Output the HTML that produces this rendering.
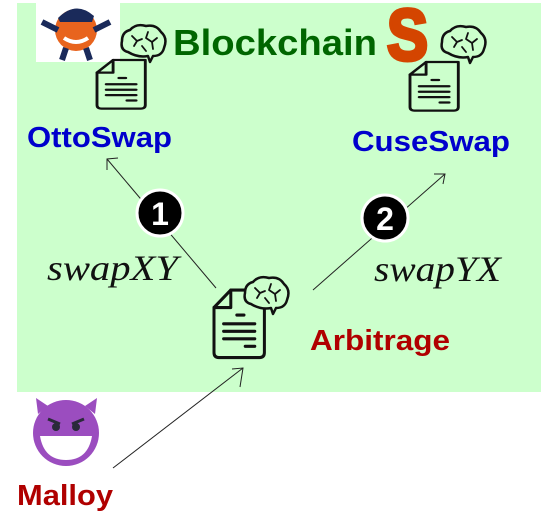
<!DOCTYPE html>
<html><head><meta charset="utf-8"><style>
html,body{margin:0;padding:0;background:#fff;}
svg{display:block;}
</style></head><body>
<svg width="541" height="529" viewBox="0 0 541 529" xmlns="http://www.w3.org/2000/svg">
<defs>
<g id="doc" fill="none" stroke="#111" stroke-width="2.5" stroke-linecap="round" stroke-linejoin="round">
<path d="M14 0 L42 0 L42 50 Q42 54 38 54 L4 54 Q0 54 0 50 L0 14 Z"/>
<path d="M0 14 L14 14 L14 0"/>
<line x1="19" y1="20" x2="25" y2="20"/>
<line x1="8" y1="27" x2="34" y2="27"/>
<line x1="8" y1="33" x2="34" y2="33"/>
<line x1="8" y1="39" x2="34" y2="39"/>
<line x1="26" y1="45" x2="34" y2="45"/>
</g>
<g id="brain" fill="#ccffcc" stroke="#111" stroke-width="2.5" stroke-linecap="round" stroke-linejoin="round">
<path d="M8 28 Q0 26 2 17 Q2 8 10 6 Q16 -1 26 2 Q36 0 41 8 Q48 14 44 24 Q42 32 33 32 L30 38 L28 32 Q18 34 8 28 Z"/>
<path d="M12 12 L17 17 L14 22 M17 17 L22 15 M28 8 L26 14 L32 18 M32 18 L37 14 M32 18 L33 25 M22 22 L26 27" fill="none" stroke-width="1.8"/>
</g>
</defs>
<rect x="17" y="3" width="524" height="389" fill="#ccffcc"/>
<!-- Otto -->
<rect x="36" y="3" width="84" height="59" fill="#fff"/>
<circle cx="76" cy="30" r="21" fill="#e8641e"/>
<path d="M58 18 Q76 0 94 16 L92 22 L60 22 Z" fill="#1a2a5a"/>
<path d="M42 22 L58 30 M110 22 L94 30" stroke="#1a2a5a" stroke-width="6"/>
<path d="M64 38 Q76 46 88 38" stroke="#fff" stroke-width="4" fill="none"/>
<path d="M66 48 L62 60 M86 48 L90 60" stroke="#1a2a5a" stroke-width="6"/>
<!-- S logo -->
<text x="387" y="60" textLength="41" lengthAdjust="spacingAndGlyphs" font-family="Liberation Sans, sans-serif" font-weight="bold" font-size="72" fill="#d44500" stroke="#d44500" stroke-width="4">S</text>
<g transform="translate(97,60) scale(1.15,0.9)"><use href="#doc"/></g>
<use href="#brain" x="120" y="24"/>
<g transform="translate(410,62) scale(1.15,0.9)"><use href="#doc"/></g>
<use href="#brain" x="440" y="25"/>
<g transform="translate(214,290) scale(1.2,1.25)"><use href="#doc"/></g>
<use href="#brain" x="243" y="276"/>
<text x="173" y="55" textLength="204" lengthAdjust="spacingAndGlyphs" font-family="Liberation Sans, sans-serif" font-weight="bold" font-size="36" fill="#006600">Blockchain</text>
<text x="27" y="147" textLength="145" lengthAdjust="spacingAndGlyphs" font-family="Liberation Sans, sans-serif" font-weight="bold" font-size="29" fill="#0000cc">OttoSwap</text>
<text x="352" y="151" textLength="158" lengthAdjust="spacingAndGlyphs" font-family="Liberation Sans, sans-serif" font-weight="bold" font-size="29" fill="#0000cc">CuseSwap</text>
<text x="310" y="350" textLength="140" lengthAdjust="spacingAndGlyphs" font-family="Liberation Sans, sans-serif" font-weight="bold" font-size="29" fill="#b00000">Arbitrage</text>
<text x="17" y="505" textLength="96" lengthAdjust="spacingAndGlyphs" font-family="Liberation Sans, sans-serif" font-weight="bold" font-size="29" fill="#b00000">Malloy</text>
<text x="47" y="280" textLength="131" lengthAdjust="spacingAndGlyphs" font-family="Liberation Serif, serif" font-style="italic" font-size="36" fill="#111">swapXY</text>
<text x="374" y="281" textLength="127" lengthAdjust="spacingAndGlyphs" font-family="Liberation Serif, serif" font-style="italic" font-size="36" fill="#111">swapYX</text>
<g stroke="#222" stroke-width="1" fill="none">
<line x1="216" y1="288" x2="107" y2="159"/>
<path d="M107 170 L107 159 L118 158"/>
<line x1="313" y1="290" x2="445" y2="174"/>
<path d="M434 174 L445 174 L443 184"/>
<line x1="113" y1="468" x2="243" y2="368"/>
<path d="M232 369 L243 368 L240 387"/>
</g>
<circle cx="160" cy="213" r="23" fill="#000" stroke="#fff" stroke-width="3"/>
<text x="160" y="225" text-anchor="middle" font-family="Liberation Sans, sans-serif" font-weight="bold" font-size="32" fill="#fff">1</text>
<circle cx="385" cy="218" r="23" fill="#000" stroke="#fff" stroke-width="3"/>
<text x="385" y="230" text-anchor="middle" font-family="Liberation Sans, sans-serif" font-weight="bold" font-size="32" fill="#fff">2</text>
<!-- devil -->
<path d="M38 414 L36 398 L48 406 Z M95 414 L97 398 L85 406 Z" fill="#9b4dbf"/>
<circle cx="66" cy="433" r="33" fill="#9b4dbf"/>
<path d="M40 436 Q66 436 92 436 Q88 460 66 460 Q44 460 40 436 Z" fill="#fff"/>
<circle cx="56" cy="427" r="3" fill="#2a2a3a" stroke="#2a2a3a" stroke-width="2"/>
<circle cx="76" cy="427" r="3" fill="#2a2a3a" stroke="#2a2a3a" stroke-width="2"/>
<path d="M48 419 L60 424 M84 419 L72 424" stroke="#2a2a3a" stroke-width="3"/>
</svg>
</body></html>
